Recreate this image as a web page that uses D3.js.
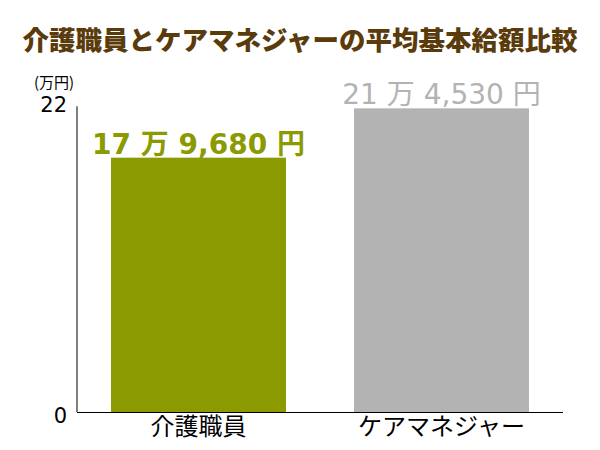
<!DOCTYPE html>
<html><head><meta charset="utf-8">
<script src="https://cdn.jsdelivr.net/npm/d3@7"></script>
<style>
html,body{margin:0;padding:0;background:#fff;}
svg{display:block;}
text{font-family:"DejaVu Sans","Noto Sans CJK JP",sans-serif;}
</style></head>
<body>
<script>
const categories = ["介護職員", "ケアマネジャー"];
const values = [17.968, 21.453];
const valueLabels = ["17 万 9,680 円", "21 万 4,530 円"];
const barColors = ["#8a9a00", "#b3b3b3"];
const labelColors = ["#8a9a00", "#b3b3b3"];
const labelWeights = ["bold", "normal"];
const yTicks = [0, 22];
const title = "介護職員とケアマネジャーの平均基本給額比較";
const unitLabel = "(万円)";

const W = 600, H = 450;
const svg = d3.select("body").append("svg").attr("width", W).attr("height", H);

const x = d3.scaleBand().domain(categories).range([77, 563]).paddingInner(0.28).paddingOuter(0.14);
const y = d3.scaleLinear().domain([0, 22]).range([412, 100.6]);

svg.append("text").attr("x", 300).attr("y", 50).attr("text-anchor", "middle")
  .attr("font-size", 26.5).attr("font-weight", 900).attr("fill", "#5a3b0c")
  .style("font-family", "'Noto Sans CJK JP',sans-serif")
  .text(title);

// bars
svg.selectAll("rect.bar").data(values).join("rect").attr("class", "bar")
  .attr("x", (d, i) => x(categories[i])).attr("width", x.bandwidth())
  .attr("y", d => y(d)).attr("height", d => y(0) - y(d))
  .attr("fill", (d, i) => barColors[i]);

// value labels
svg.selectAll("text.val").data(values).join("text").attr("class", "val")
  .attr("x", (d, i) => x(categories[i]) + x.bandwidth() / 2)
  .attr("y", d => y(d) - 4)
  .attr("text-anchor", "middle").attr("font-size", 28)
  .attr("font-weight", (d, i) => labelWeights[i])
  .attr("fill", (d, i) => labelColors[i])
  .text((d, i) => valueLabels[i]);

// y axis
const yAxis = d3.axisLeft(y).tickValues(yTicks).tickSize(0).tickPadding(10).tickFormat(d3.format("d"));
const gy = svg.append("g").attr("transform", "translate(77,0)").call(yAxis);
gy.select(".domain").remove();
gy.append("line").attr("x1", 0).attr("x2", 0).attr("y1", y(0)).attr("y2", y(21.6)).attr("stroke", "#000");
gy.selectAll(".tick text").attr("font-size", 21).attr("fill", "#000")
  .style("font-family", "'DejaVu Sans',sans-serif").attr("dy", "0.5em");

// x axis
const xAxis = d3.axisBottom(x).tickSize(0).tickPadding(6);
const gx = svg.append("g").attr("transform", "translate(0,412)").call(xAxis);
gx.select(".domain").attr("stroke", "#000").attr("d", "M77,0.5H563");
gx.selectAll(".tick text").attr("font-size", 24).attr("fill", "#000")
  .style("font-family", "'Noto Sans CJK JP',sans-serif");

// unit label
svg.append("text").attr("x", 54).attr("y", 88).attr("text-anchor", "middle")
  .attr("font-size", 15).attr("fill", "#000")
  .style("font-family", "'Noto Sans CJK JP',sans-serif")
  .text(unitLabel);
</script>
</body></html>
